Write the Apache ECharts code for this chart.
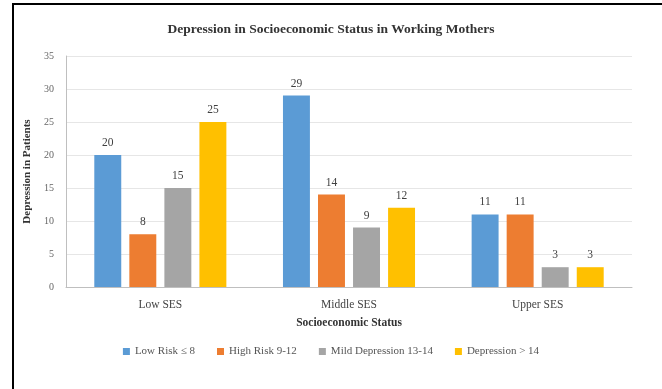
<!DOCTYPE html>
<html>
<head>
<meta charset="utf-8">
<script src="https://cdn.jsdelivr.net/npm/echarts@6/dist/echarts.min.js"></script>
<style>
  html, body { margin: 0; padding: 0; background: #fff; overflow: hidden; }
  #topLine { position: absolute; left: 12px; top: 3px; width: 650px; height: 2px; background: #000; }
  #leftLine { position: absolute; left: 12px; top: 3px; width: 2px; height: 386px; background: #000; }
  #chart { position: absolute; left: 0; top: 0; width: 662px; height: 389px; }
</style>
</head>
<body>
<div id="topLine"></div>
<div id="leftLine"></div>
<div id="chart"></div>
<script>
var categories = ['Low SES', 'Middle SES', 'Upper SES'];
var seriesNames = ['Low Risk \u2264 8', 'High Risk 9-12', 'Mild Depression 13-14', 'Depression > 14'];
var lowRisk = [20, 29, 11];
var highRisk = [8, 14, 11];
var mildDepression = [15, 9, 3];
var depression = [25, 12, 3];
var colors = ['#5b9bd5', '#ed7d31', '#a5a5a5', '#ffc000'];

var font = 'Liberation Serif';
var values = [lowRisk, highRisk, mildDepression, depression];

var series = values.map(function (data, i) {
  return {
    name: seriesNames[i],
    type: 'bar',
    data: data,
    barGap: '30%',
    barCategoryGap: '30%',
    itemStyle: { color: colors[i] },
    label: {
      show: true,
      position: 'top',
      distance: 6,
      color: '#404040',
      fontFamily: font,
      fontSize: 11.5
    }
  };
});

var option = {
  animation: false,
  color: colors,
  title: {
    text: 'Depression in Socioeconomic Status in Working Mothers',
    left: 'center',
    top: 18,
    textStyle: { fontFamily: font, fontSize: 13.5, fontWeight: 'bold', color: '#333' }
  },
  legend: {
    bottom: 27,
    left: 'center',
    itemWidth: 7,
    itemHeight: 7,
    itemGap: 22,
    icon: 'rect',
    textStyle: { fontFamily: font, fontSize: 11, color: '#555' }
  },
  grid: { left: 66, right: 30, top: 56, bottom: 102 },
  xAxis: {
    type: 'category',
    data: categories,
    name: 'Socioeconomic Status',
    nameLocation: 'middle',
    nameGap: 30,
    nameTextStyle: { fontFamily: font, fontSize: 11.5, fontWeight: 'bold', color: '#333' },
    axisLine: { lineStyle: { color: '#bfbfbf' } },
    axisTick: { show: false },
    axisLabel: { fontFamily: font, fontSize: 11.5, color: '#444', margin: 12 }
  },
  yAxis: {
    type: 'value',
    min: 0,
    max: 35,
    interval: 5,
    name: 'Depression in Patients',
    nameLocation: 'middle',
    nameGap: 30,
    nameTextStyle: { fontFamily: font, fontSize: 11, fontWeight: 'bold', color: '#333' },
    axisLine: { show: true, lineStyle: { color: '#bfbfbf' } },
    axisTick: { show: false },
    axisLabel: { fontFamily: font, fontSize: 10, color: '#666', margin: 12 },
    splitLine: { lineStyle: { color: '#e6e6e6' } }
  },
  series: series
};

var chart = echarts.init(document.getElementById('chart'));
chart.setOption(option);
</script>
</body>
</html>
